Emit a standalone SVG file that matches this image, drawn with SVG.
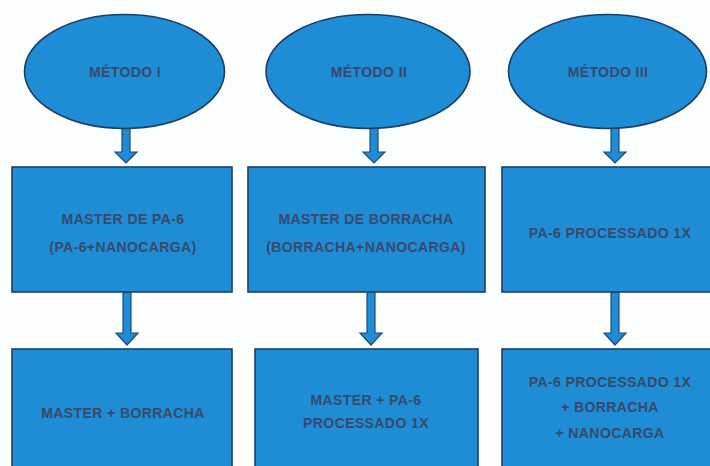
<svg xmlns="http://www.w3.org/2000/svg" width="710" height="466" viewBox="0 0 710 466">
<style>
.n{fill:#1f8cd6;stroke:#1d3f66;stroke-width:1.6}
.a{fill:#1f8cd6;stroke:#1d4a78;stroke-width:1.2}
.t{font-family:"Liberation Sans",Arial,sans-serif;font-size:14px;font-weight:bold;letter-spacing:0.4px;fill:#374b6c;text-anchor:middle}
</style>
<rect width="710" height="466" fill="#fcfdfd"/>
<g id="connectors">
<polygon class="a" points="122,128 130,128 130,152 137,152 126,163 115,152 122,152"/>
<polygon class="a" points="370,128 378,128 378,152 385,152 374,163 363,152 370,152"/>
<polygon class="a" points="611,128 619,128 619,152 626,152 615,163 604,152 611,152"/>
<polygon class="a" points="123,292 131,292 131,333 138,333 127,345 116,333 123,333"/>
<polygon class="a" points="367,292 375,292 375,333 382,333 371,345 360,333 367,333"/>
<polygon class="a" points="611,292 619,292 619,333 626,333 615,345 604,333 611,333"/>
</g>
<g id="m1"><ellipse class="n" cx="124.5" cy="71.5" rx="100" ry="57"/><text class="t" x="125" y="77">MÉTODO I</text></g>
<g id="m2"><ellipse class="n" cx="368" cy="71.5" rx="102" ry="57"/><text class="t" x="369" y="77">MÉTODO II</text></g>
<g id="m3"><ellipse class="n" cx="607.5" cy="71.5" rx="99" ry="57"/><text class="t" x="608" y="77">MÉTODO III</text></g>
<g id="r1a"><rect class="n" x="12" y="167" width="220" height="125"/><text class="t" x="123" y="224">MASTER DE PA-6</text><text class="t" x="123" y="252">(PA-6+NANOCARGA)</text></g>
<g id="r1b"><rect class="n" x="248" y="167" width="237" height="125"/><text class="t" x="366" y="224">MASTER DE BORRACHA</text><text class="t" x="366" y="252">(BORRACHA+NANOCARGA)</text></g>
<g id="r1c"><rect class="n" x="502" y="167" width="220" height="125"/><text class="t" x="610" y="238">PA-6 PROCESSADO 1X</text></g>
<g id="r2a"><rect class="n" x="12" y="349" width="220" height="125"/><text class="t" x="123" y="418">MASTER + BORRACHA</text></g>
<g id="r2b"><rect class="n" x="255" y="349" width="223" height="125"/><text class="t" x="366" y="405">MASTER + PA-6</text><text class="t" x="366" y="428">PROCESSADO 1X</text></g>
<g id="r2c"><rect class="n" x="502" y="349" width="220" height="125"/><text class="t" x="610" y="387">PA-6 PROCESSADO 1X</text><text class="t" x="610" y="412">+ BORRACHA</text><text class="t" x="610" y="438">+ NANOCARGA</text></g>
</svg>
